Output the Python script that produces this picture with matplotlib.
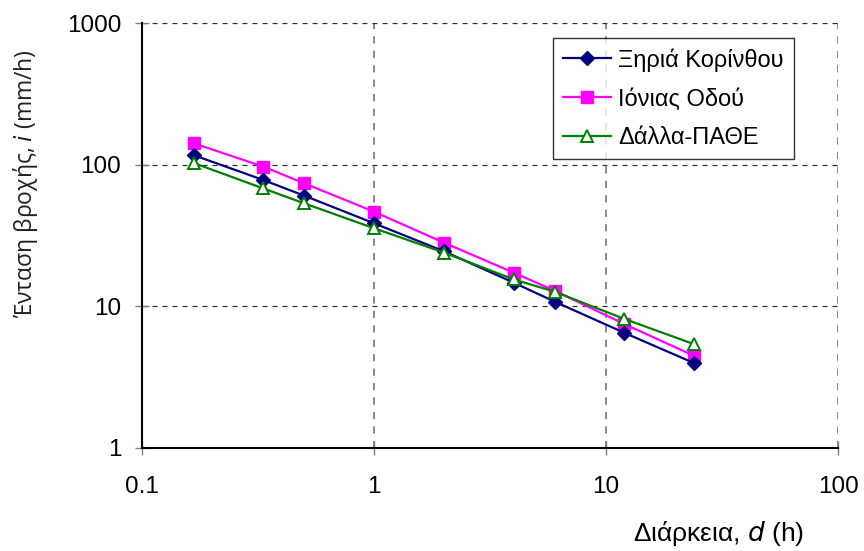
import matplotlib
matplotlib.use("Agg")
import matplotlib.pyplot as plt

# durations (h) and intensities (mm/h)
durations = [1/6, 1/3, 0.5, 1, 2, 4, 6, 12, 24]
xiria_korinthou = [117, 78, 60.5, 38.6, 24.5, 14.7, 10.8, 6.5, 3.97]
ionias_odou = [142, 97, 74, 46.6, 28.2, 17.3, 12.9, 7.5, 4.47]
dalla_pathe = [103, 68, 53.4, 35.6, 24, 15.5, 12.7, 8.15, 5.4]

labels = ["Ξηριά Κορίνθου", "Ιόνιας Οδού", "Δάλλα-ΠΑΘΕ"]
x_ticks = [0.1, 1, 10, 100]
x_ticklabels = ["0.1", "1", "10", "100"]
y_ticks = [1, 10, 100, 1000]
y_ticklabels = ["1", "10", "100", "1000"]

plt.rcParams['font.family'] = ['Liberation Sans', 'DejaVu Sans']

fig = plt.figure(figsize=(8.64, 5.51), dpi=100)
ax = fig.add_axes([0.1644, 0.187, 0.8056, 0.771])

ax.plot(durations, xiria_korinthou, color='#000080', marker='D', markersize=7.5,
        linewidth=1.6, label=labels[0], zorder=4)
ax.plot(durations, ionias_odou, color='#FF00FF', marker='s', markersize=8,
        linewidth=1.6, label=labels[1], zorder=3)
ax.plot(durations, dalla_pathe, color='#008000', marker='^', markersize=9,
        markerfacecolor='white', markeredgewidth=1.4, linewidth=1.6,
        label=labels[2], zorder=5)

ax.set_xscale('log')
ax.set_yscale('log')
ax.set_xlim(0.1, 100)
ax.set_ylim(1, 1000)
ax.set_xticks(x_ticks)
ax.set_xticklabels(x_ticklabels)
ax.set_yticks(y_ticks)
ax.set_yticklabels(y_ticklabels)
ax.minorticks_off()
ax.tick_params(axis='both', labelsize=17.5, direction='inout', length=10,
               width=1, color='#808080')
ax.tick_params(axis='x', pad=15)
ax.tick_params(axis='y', pad=10)

# gridlines: dark dashes across, grey dashes up
ax.grid(axis='y', color='#303030', linestyle=(0, (4, 4)), linewidth=0.9)
ax.grid(axis='x', color='#808080', linestyle=(0, (4, 4)), linewidth=1.3)
ax.set_axisbelow(True)

ax.spines['top'].set_visible(False)
ax.spines['right'].set_visible(False)
ax.spines['left'].set_linewidth(1.5)
ax.spines['bottom'].set_linewidth(1.5)

leg = ax.legend(loc='upper left', bbox_to_anchor=(0.5905, 0.9647), fontsize=17,
                frameon=True, fancybox=False, edgecolor='black',
                handlelength=2.05, handletextpad=0.3, borderpad=0.42,
                labelspacing=0.7, borderaxespad=0)
leg.get_frame().set_linewidth(1)

fig.text(0.030, 0.666, "Ένταση βροχής, $\\it{i}$ (mm/h)", rotation=90,
         ha='center', va='center', fontsize=16.5, family=['Open Sans', 'DejaVu Sans'],
         color='#202020')
fig.text(0.832, 0.031, "Διάρκεια, $\\it{d}$ (h)", ha='center', va='center',
         fontsize=19)

fig.savefig("out.png", dpi=100)
